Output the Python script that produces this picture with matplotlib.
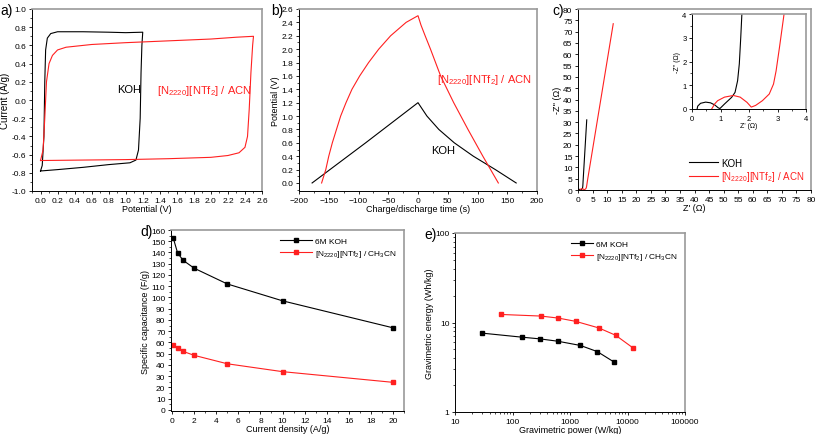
import matplotlib.pyplot as plt
from matplotlib.ticker import MultipleLocator, AutoMinorLocator, FuncFormatter, NullFormatter

plt.rcParams['font.family'] = ['Liberation Sans', 'DejaVu Sans']
plt.rcParams['mathtext.fontset'] = 'custom'
plt.rcParams['mathtext.rm'] = 'Liberation Sans'
plt.rcParams['mathtext.it'] = 'Liberation Sans:italic'
plt.rcParams['mathtext.bf'] = 'Liberation Sans:bold'

RED = '#ff2020'
IL_LABEL = r'[N$_{2220}$][NTf$_2$] / ACN'
IL_LABEL_CH3CN = r'[N$_{2220}$][NTf$_2$] / CH$_3$CN'

# a) циклическая вольтамперометрия (замкнутые петли)
cv_koh_v = [0.0, 0.02, 0.04, 0.05, 0.06, 0.08, 0.12, 0.2, 0.5, 0.8, 1.0, 1.2,
            1.19, 1.18, 1.17, 1.15, 1.12, 1.05, 0.8, 0.5, 0.2, 0.0]
cv_koh_i = [-0.78, -0.72, -0.4, 0.2, 0.55, 0.68, 0.73, 0.75, 0.75, 0.745, 0.74, 0.745,
            0.6, 0.3, -0.2, -0.55, -0.66, -0.69, -0.71, -0.74, -0.765, -0.78]
cv_il_v = [0.0, 0.03, 0.05, 0.07, 0.1, 0.14, 0.2, 0.3, 0.6, 1.0, 1.5, 2.0, 2.3, 2.5,
           2.49, 2.47, 2.45, 2.43, 2.4, 2.33, 2.2, 2.0, 1.5, 1.0, 0.5, 0.0]
cv_il_i = [-0.665, -0.55, -0.2, 0.2, 0.4, 0.49, 0.55, 0.58, 0.61, 0.63, 0.65, 0.67, 0.69, 0.70,
           0.6, 0.3, -0.1, -0.4, -0.52, -0.58, -0.61, -0.63, -0.645, -0.655, -0.66, -0.665]

# b) гальваностатический заряд/разряд
gcd_koh_t = [-178, -88, 0, 15, 35, 61, 93, 130, 165]
gcd_koh_v = [0.0, 0.6, 1.2, 1.0, 0.8, 0.6, 0.4, 0.2, 0.0]
gcd_il_t = [-162, -155, -150, -144, -137, -130, -121, -111, -98, -83, -66, -46, -20, 0,
            5, 12, 21, 38, 60, 84, 109, 122, 135]
gcd_il_v = [0.0, 0.2, 0.4, 0.6, 0.8, 1.0, 1.2, 1.4, 1.6, 1.8, 2.0, 2.2, 2.4, 2.5,
            2.36, 2.2, 2.0, 1.6, 1.2, 0.8, 0.4, 0.2, 0.0]

# c) диаграмма Найквиста
nyq_koh_re = [0.18, 0.2, 0.3, 0.48, 0.65, 0.8, 0.92, 0.98, 1.14, 1.39, 1.51, 1.6, 1.66, 1.71, 1.75, 3.0]
nyq_koh_im = [0.0, 0.12, 0.24, 0.29, 0.26, 0.17, 0.05, 0.02, 0.21, 0.49, 0.7, 1.19, 1.9, 3.0, 4.0, 31.0]
nyq_il_re = [0.69, 0.8, 0.9, 1.14, 1.45, 1.69, 1.93, 2.08, 2.23, 2.47, 2.71, 2.86, 2.95, 3.07, 3.23, 12.1]
nyq_il_im = [0.0, 0.22, 0.35, 0.5, 0.57, 0.5, 0.28, 0.08, 0.15, 0.35, 0.63, 1.05, 1.6, 2.6, 4.0, 73.5]

# d) удельная ёмкость
current_density = [0.1, 0.5, 1, 2, 5, 10, 20]
cap_koh = [153, 139.5, 133, 126, 112, 97, 73]
cap_il = [57.5, 55, 52, 48.5, 41, 34, 24.5]

# e) диаграмма Рагона
power_koh = [30, 148, 300, 611, 1516, 2985, 5900]
energy_koh = [7.6, 6.85, 6.56, 6.18, 5.54, 4.73, 3.6]
power_il = [63, 313, 627, 1257, 3160, 6220, 12470]
energy_il = [12.3, 11.8, 11.2, 10.3, 8.7, 7.2, 5.2]

W, H = 817, 435
fig = plt.figure(figsize=(W / 100, H / 100), dpi=100)


def box(left, right, top, bottom):
    return [left / W, 1 - bottom / H, (right - left) / W, (bottom - top) / H]


def style(ax, fs=5.5):
    for s in ['top', 'right']:
        ax.spines[s].set_color('#9a9a9a')
        ax.spines[s].set_linewidth(1.2)
    for s in ['left', 'bottom']:
        ax.spines[s].set_linewidth(0.7)
    ax.tick_params(which='major', direction='out', length=2.5, width=0.6, labelsize=fs, pad=1.5)
    ax.tick_params(which='minor', direction='out', length=1.5, width=0.5)


# a)
ax = fig.add_axes(box(32, 262, 10, 192))
ax.plot(cv_koh_v, cv_koh_i, color='black', lw=0.8)
ax.plot(cv_il_v, cv_il_i, color=RED, lw=0.8)
ax.set_xlim(-0.1, 2.6)
ax.set_ylim(-1.0, 1.0)
ax.xaxis.set_major_locator(MultipleLocator(0.2))
ax.yaxis.set_major_locator(MultipleLocator(0.2))
ax.xaxis.set_minor_locator(AutoMinorLocator(2))
ax.yaxis.set_minor_locator(AutoMinorLocator(2))
ax.xaxis.set_major_formatter(FuncFormatter(lambda v, p: f'{v:.1f}'))
ax.yaxis.set_major_formatter(FuncFormatter(lambda v, p: f'{v:.1f}'))
style(ax, 6)
ax.set_xlabel('Potential (V)', fontsize=6.5, labelpad=0)
ax.set_ylabel('Current (A/g)', fontsize=7, labelpad=1)
ax.text(1.04, 0.12, 'KOH', fontsize=8, ha='center', va='center')
ax.text(1.92, 0.11, IL_LABEL, fontsize=8, ha='center', va='center', color=RED)

# b)
ax = fig.add_axes(box(299, 537, 10, 192))
ax.plot(gcd_koh_t, gcd_koh_v, color='black', lw=0.8)
ax.plot(gcd_il_t, gcd_il_v, color=RED, lw=0.8)
ax.set_xlim(-200, 200)
ax.set_ylim(-0.12, 2.6)
ax.xaxis.set_major_locator(MultipleLocator(50))
ax.yaxis.set_major_locator(MultipleLocator(0.2))
ax.xaxis.set_minor_locator(AutoMinorLocator(2))
ax.yaxis.set_minor_locator(AutoMinorLocator(2))
ax.yaxis.set_major_formatter(FuncFormatter(lambda v, p: f'{v:.1f}'))
style(ax, 6)
ax.set_xlabel('Charge/discharge time (s)', fontsize=6.5, labelpad=0)
ax.set_ylabel('Potential (V)', fontsize=6.5, labelpad=1)
ax.text(42, 0.5, 'KOH', fontsize=8, ha='center', va='center')
ax.text(112, 1.56, IL_LABEL, fontsize=8, ha='center', va='center', color=RED)

# c)
ax = fig.add_axes(box(578, 811, 10, 191))
ax.plot(nyq_koh_re, nyq_koh_im, color='black', lw=0.8, label='KOH')
ax.plot(nyq_il_re, nyq_il_im, color=RED, lw=0.8, label=IL_LABEL)
ax.set_xlim(0, 80)
ax.set_ylim(0, 80)
ax.xaxis.set_major_locator(MultipleLocator(5))
ax.yaxis.set_major_locator(MultipleLocator(5))
style(ax, 6)
ax.set_xlabel("Z' (Ω)", fontsize=6.5, labelpad=0)
ax.set_ylabel("-Z'' (Ω)", fontsize=6.5, labelpad=1)
leg = ax.legend(loc='lower right', fontsize=7, frameon=False, handlelength=3.0,
                handletextpad=0.3, labelspacing=0.15, borderaxespad=0.3)
leg.get_texts()[1].set_color(RED)

# врезка c)
axi = fig.add_axes(box(692, 806, 15, 110))
axi.plot(nyq_koh_re, nyq_koh_im, color='black', lw=0.8)
axi.plot(nyq_il_re, nyq_il_im, color=RED, lw=0.8)
axi.set_xlim(0, 4)
axi.set_ylim(0, 4)
axi.xaxis.set_major_locator(MultipleLocator(1))
axi.yaxis.set_major_locator(MultipleLocator(1))
axi.xaxis.set_minor_locator(AutoMinorLocator(2))
axi.yaxis.set_minor_locator(AutoMinorLocator(2))
style(axi, 5.5)
axi.set_xlabel("Z' (Ω)", fontsize=5, labelpad=0)
axi.set_ylabel("-Z'' (Ω)", fontsize=5, labelpad=1)

# d)
ax = fig.add_axes(box(171, 404, 231, 412))
ax.plot(current_density, cap_koh, '-s', color='black', lw=0.8, ms=2.5, label='6M KOH')
ax.plot(current_density, cap_il, '-s', color=RED, lw=0.8, ms=2.5, label=IL_LABEL_CH3CN)
ax.set_xlim(-0.1, 21)
ax.set_ylim(-1, 160)
ax.xaxis.set_major_locator(MultipleLocator(2))
ax.yaxis.set_major_locator(MultipleLocator(10))
ax.xaxis.set_minor_locator(AutoMinorLocator(2))
ax.yaxis.set_minor_locator(AutoMinorLocator(2))
style(ax, 6)
ax.set_xlabel('Current density (A/g)', fontsize=6.5, labelpad=0)
ax.set_ylabel('Specific capacitance (F/g)', fontsize=6.5, labelpad=1)
ax.legend(loc='upper right', fontsize=6, frameon=False, handlelength=3.8,
          handletextpad=0.4, labelspacing=0.3, borderaxespad=0.5)

# e)
ax = fig.add_axes(box(455, 685, 234, 413))
ax.plot(power_koh, energy_koh, '-s', color='black', lw=0.8, ms=2.5, label='6M KOH')
ax.plot(power_il, energy_il, '-s', color=RED, lw=0.8, ms=2.5, label=IL_LABEL_CH3CN)
ax.set_xscale('log')
ax.set_yscale('log')
ax.set_xlim(10, 1e5)
ax.set_ylim(1, 100)
ax.xaxis.set_major_formatter(FuncFormatter(lambda v, p: f'{v:g}'))
ax.yaxis.set_major_formatter(FuncFormatter(lambda v, p: f'{v:g}'))
ax.xaxis.set_minor_formatter(NullFormatter())
ax.yaxis.set_minor_formatter(NullFormatter())
style(ax, 6)
ax.set_xlabel('Gravimetric power (W/kg)', fontsize=6.5, labelpad=0)
ax.set_ylabel('Gravimetric energy (Wh/kg)', fontsize=6.5, labelpad=1)
ax.legend(loc='upper right', fontsize=6, frameon=False, handlelength=2.6,
          handletextpad=0.4, labelspacing=0.3, borderaxespad=0.5)

# подписи панелей
for lbl, x, y in [('a)', 0, 4), ('b)', 271, 4), ('c)', 552, 4), ('d)', 140, 225), ('e)', 424, 228)]:
    fig.text(x / W, 1 - y / H, lbl, fontsize=10, va='top', ha='left')

fig.savefig('out.png', dpi=100)
